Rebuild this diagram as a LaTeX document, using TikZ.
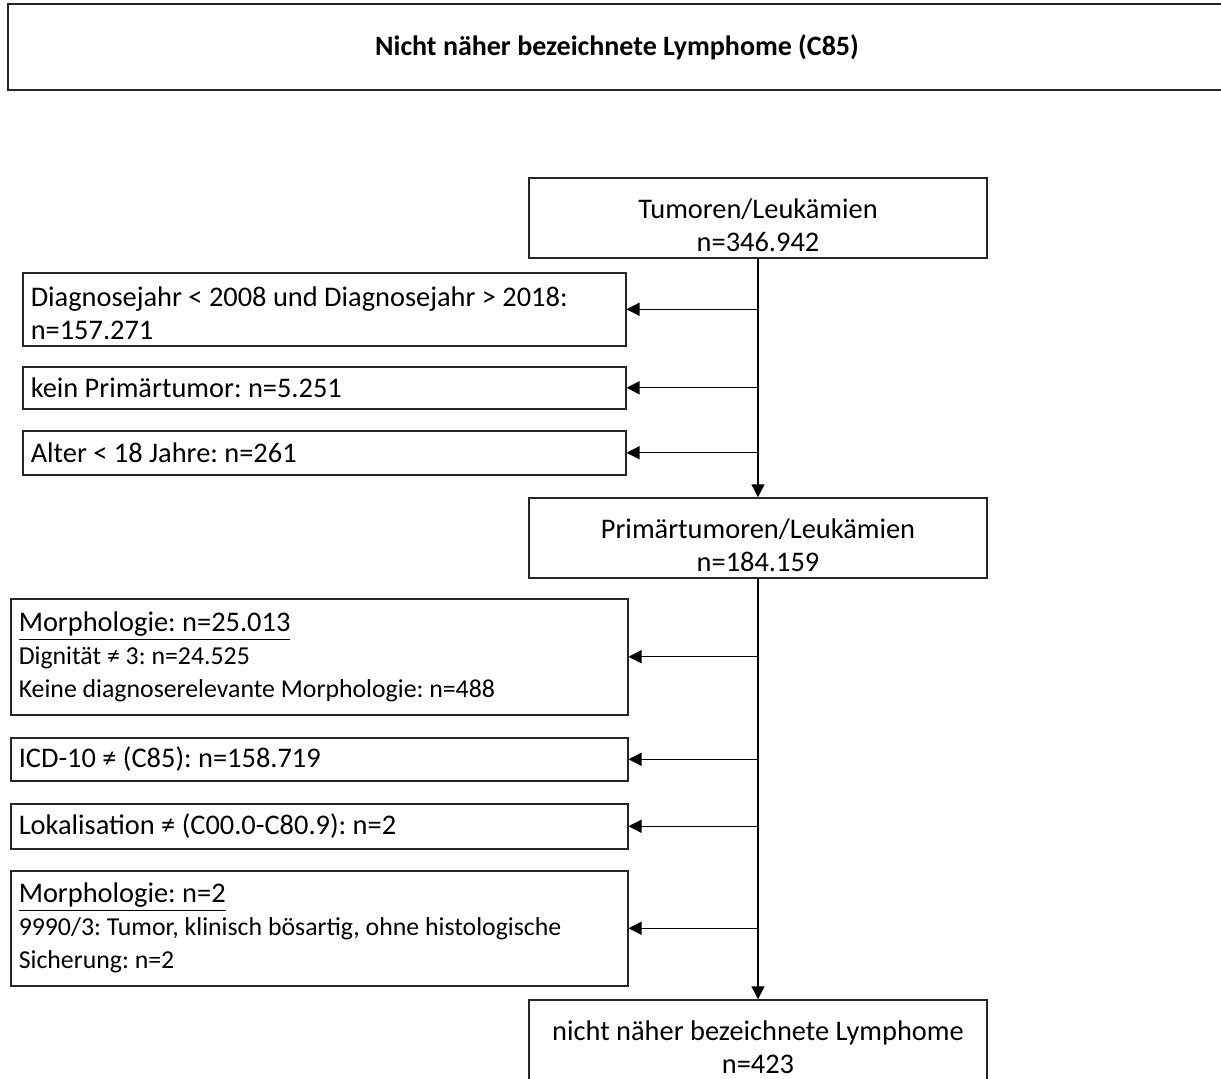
\documentclass[tikz,border=0pt]{standalone}
\usepackage{fontspec}
\setmainfont{Carlito}
\usetikzlibrary{arrows.meta}
\frenchspacing
\newcommand{\mainsz}{\fontsize{14.2}{16.5}\selectfont}
\newcommand{\smallsz}{\fontsize{12.9}{15.5}\selectfont}
\newcommand{\gapc}{\rule{0pt}{17pt}}
\newcommand{\gapl}{\rule{0pt}{13.5pt}}
\begin{document}
\begin{tikzpicture}[x=0.5pt,y=-0.5pt,
  box/.style={draw=black!85, line width=0.75pt, rectangle, inner xsep=4pt, inner ysep=0pt, font=\mainsz},
  cbox/.style={box, align=flush center, minimum width=229pt, minimum height=40pt, text width=221pt},
  lbox/.style={box, align=flush left, anchor=north west, text width=#1},
  arr/.style={line width=0.7pt, -{Triangle[length=6.5pt,width=6.5pt]}}]
\useasboundingbox (0,0) rectangle (1221,1078);
\clip (0,0) rectangle (1221,1078);
% title
\node[box, minimum width=609pt, minimum height=43pt, font=\fontsize{14}{16.5}\selectfont\bfseries] (title) at (617,47) {Nicht näher bezeichnete Lymphome (C85)};
% main column
\node[cbox] (b1) at (758,218) {\gapc Tumoren/Leukämien\\n=346.942};
\node[cbox] (b2) at (758,538) {\gapc Primärtumoren/Leukämien\\n=184.159};
\node[cbox] (b3) at (758,1040) {\gapc nicht näher bezeichnete Lymphome\\n=423};
% exclusion boxes, first stage
\node[lbox=293.5pt, minimum height=36.5pt] (d1) at (22,272) {\gapl Diagnosejahr < 2008 und Diagnosejahr > 2018:\\n=157.271};
\node[lbox=293.5pt, minimum height=21pt] (d2) at (22,366) {kein Primärtumor: n=5.251};
\node[lbox=293.5pt, minimum height=22pt] (d3) at (22,430) {Alter < 18 Jahre: n=261};
% exclusion boxes, second stage
\node[lbox=300.5pt, minimum height=58pt] (m1) at (10,598) {\underline{Morphologie: n=25.013}\\{\smallsz Dignität ≠ 3: n=24.525}\\{\smallsz Keine diagnoserelevante Morphologie: n=488}};
\node[lbox=300.5pt, minimum height=21.5pt] (icd) at (10,737) {ICD-10 ≠ (C85): n=158.719};
\node[lbox=300.5pt, minimum height=22.5pt] (lok) at (10,803) {Lokalisation ≠ (C00.0-C80.9): n=2};
\node[lbox=300.5pt, minimum height=57.5pt] (m2) at (10,870) {\underline{Morphologie: n=2}\\{\smallsz 9990/3: Tumor, klinisch bösartig, ohne histologische}\\{\smallsz Sicherung: n=2}};
% connectors
\draw[arr] (b1.south) -- (b2.north);
\draw[arr] (b2.south) -- (b3.north);
\foreach \t in {d1,d2,d3}{\draw[arr] (b1.south |- \t.east) -- (\t.east);}
\foreach \t in {m1,icd,lok,m2}{\draw[arr] (b2.south |- \t.east) -- (\t.east);}
\end{tikzpicture}
\end{document}
